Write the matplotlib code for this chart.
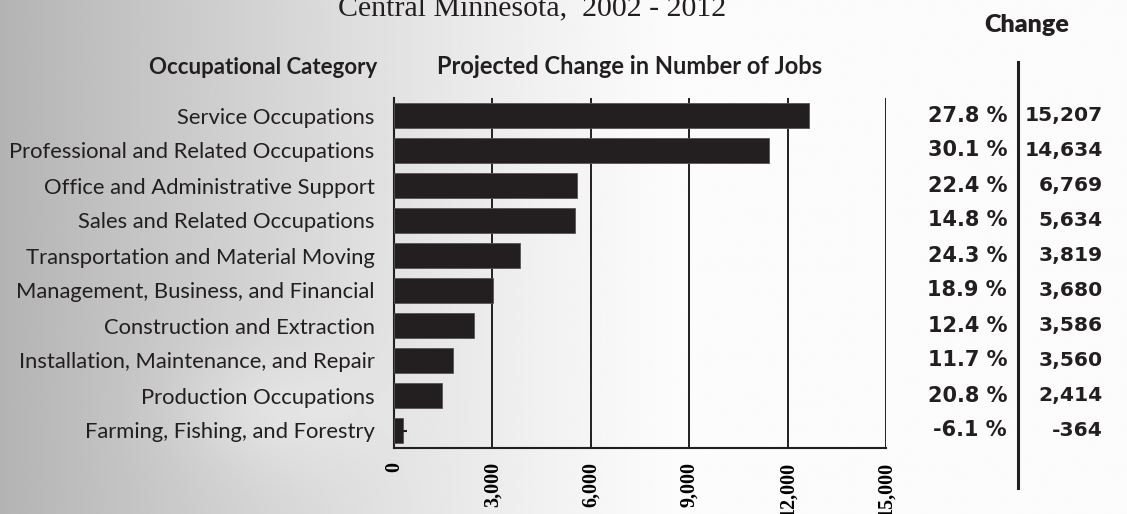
import matplotlib
matplotlib.use("Agg")
import matplotlib.pyplot as plt
import matplotlib.transforms as mtransforms
import numpy as np

# data
categories = ["Service Occupations",
              "Professional and Related Occupations",
              "Office and Administrative Support",
              "Sales and Related Occupations",
              "Transportation and Material Moving",
              "Management, Business, and Financial",
              "Construction and Extraction",
              "Installation, Maintenance, and Repair",
              "Production Occupations",
              "Farming, Fishing, and Forestry"]
bar_values = [12660, 11440, 5590, 5510, 3850, 3030, 2450, 1790, 1470, 270]
pct_labels = ["27.8 %", "30.1 %", "22.4 %", "14.8 %", "24.3 %",
              "18.9 %", "12.4 %", "11.7 %", "20.8 %", "-6.1 %"]
num_labels = ["15,207", "14,634", "6,769", "5,634", "3,819",
              "3,680", "3,586", "3,560", "2,414", "-364"]
x_ticks = [0, 3000, 6000, 9000, 12000, 15000]
x_ticklabels = ["0", "3,000", "6,000", "9,000", "12,000", "15,000"]

W, H = 1127, 514
fig = plt.figure(figsize=(W / 100, H / 100), dpi=100)

# grey background, darker on the left
bg = fig.add_axes([0, 0, 1, 1])
xx, yy = np.meshgrid(np.linspace(0, 1, 400), np.linspace(0, 1, 200))
shade = np.clip(1 - xx / 0.6, 0, 1) ** 1.2
glow = np.exp(-((xx - 0.25) ** 2 / 0.008 + (yy - 0.8) ** 2 / 0.015))
val = 0.985 - 0.28 * shade + 0.10 * glow * shade
bg.imshow(val, cmap="gray", vmin=0, vmax=1, aspect="auto",
          extent=[0, 1, 0, 1], origin="upper")
bg.set_axis_off()

ax = fig.add_axes([394 / W, 1 - 448 / H, 492 / W, 350 / H])
ax.set_facecolor("none")
ypos = np.arange(len(categories))
ax.barh(ypos, bar_values, height=0.74, color="#231f20",
        edgecolor="#555555", linewidth=0.6, zorder=3)
ax.errorbar(bar_values[-1], ypos[-1], xerr=[[0], [120]], fmt="none",
            ecolor="#231f20", elinewidth=1.5, zorder=4)
ax.set_xlim(0, 15000)
ax.set_ylim(len(categories) - 0.5, -0.5)
ax.set_xticks(x_ticks)
ax.set_xticklabels(x_ticklabels, rotation=90, family="Liberation Serif",
                   fontweight="bold", fontsize=14.5, va="top")
ax.set_yticks(ypos)
ax.set_yticklabels(categories, family="Lato", fontsize=15.8, color="#231f20")
ax.tick_params(axis="both", length=0)
ax.tick_params(axis="x", pad=10)
ax.tick_params(axis="y", pad=14)
ax.grid(axis="x", color="#231f20", linewidth=1.4, zorder=1)
for s in ["top", "right"]:
    ax.spines[s].set_visible(False)
ax.spines["left"].set_linewidth(1.5)
ax.spines["bottom"].set_linewidth(1.5)
ax.spines["left"].set_color("#231f20")
ax.spines["bottom"].set_color("#231f20")

# columns of change values on the right
trans = mtransforms.blended_transform_factory(fig.transFigure, ax.transData)
for i in ypos:
    ax.text(1007 / W, i, pct_labels[i], transform=trans, ha="right",
            va="center", family="DejaVu Sans", fontweight="bold", fontsize=15,
            color="#231f20", clip_on=False)
    ax.text(1103 / W, i, num_labels[i], transform=trans, ha="right",
            va="center", family="DejaVu Sans", fontweight="bold", fontsize=14.6,
            color="#231f20", clip_on=False)
fig.add_artist(plt.Line2D([1018 / W, 1018 / W], [1 - 62 / H, 1 - 488 / H],
                          color="#231f20", linewidth=2.2))

fig.text(1027 / W, 1 - 25 / H, "Change", ha="center", va="center",
         family="Lato", fontweight="heavy", fontsize=18, color="#231f20")
fig.text(532 / W, 1 - 15 / H, "Central Minnesota,  2002 - 2012", ha="center",
         va="baseline", family="Liberation Serif", fontsize=21.5, color="#231f20")
fig.text(377 / W, 1 - 67 / H, "Occupational Category", ha="right", va="center",
         family="Lato", fontweight="bold", fontsize=16, color="#231f20")
fig.text(437 / W, 1 - 67 / H, "Projected Change in Number of Jobs", ha="left",
         va="center", family="Lato", fontweight="bold", fontsize=17,
         color="#231f20")

fig.savefig("out.png", dpi=100)
